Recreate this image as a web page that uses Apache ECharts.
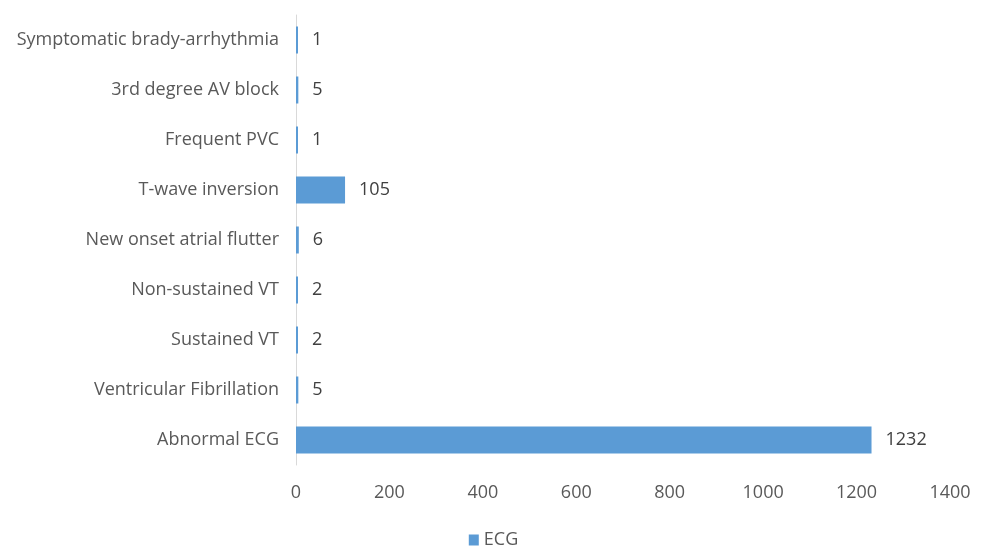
<!DOCTYPE html>
<html>
<head>
<meta charset="utf-8">
<script src="https://cdn.jsdelivr.net/npm/echarts@6/dist/echarts.min.js"></script>
<style>
  html, body { margin: 0; padding: 0; background: #fff; }
  #chart { width: 987px; height: 548px; }
</style>
</head>
<body>
<div id="chart"></div>
<script>
// Findings listed bottom-to-top along the category axis
const categories = [
  'Abnormal ECG',
  'Ventricular Fibrillation',
  'Sustained VT',
  'Non-sustained VT',
  'New onset atrial flutter',
  'T-wave inversion',
  'Frequent PVC',
  '3rd degree AV block',
  'Symptomatic brady-arrhythmia'
];
const ecgCounts = [1232, 5, 2, 2, 6, 105, 1, 5, 1];
const seriesName = 'ECG';

const textColor = '#595959';
const fontFamily = '"Open Sans", "Noto Sans", sans-serif';
const fontSize = 18;

const chart = echarts.init(document.getElementById('chart'));
chart.setOption({
  animation: false,
  textStyle: { fontFamily: fontFamily },
  grid: { left: 296, right: 37, top: 15, bottom: 83, containLabel: false },
  legend: {
    top: 526,
    left: 'center',
    itemWidth: 10,
    itemHeight: 11,
    icon: 'rect',
    itemGap: 5,
    textStyle: { color: textColor, fontSize: fontSize, fontFamily: fontFamily },
    data: [seriesName]
  },
  xAxis: {
    type: 'value',
    min: 0,
    max: 1400,
    interval: 200,
    axisLine: { show: false },
    axisTick: { show: false },
    splitLine: { show: false },
    axisLabel: {
      color: textColor,
      fontSize: fontSize,
      margin: 19,
      formatter: function (v) { return String(v); }
    }
  },
  yAxis: {
    type: 'category',
    data: categories,
    axisLine: { show: true, lineStyle: { color: '#d9d9d9', width: 1 } },
    axisTick: { show: false },
    axisLabel: { color: textColor, fontSize: fontSize, margin: 17 }
  },
  series: [{
    name: seriesName,
    type: 'bar',
    data: ecgCounts,
    barCategoryGap: '46%',
    barMinHeight: 2,
    itemStyle: { color: '#5b9bd5' },
    label: {
      show: true,
      position: 'right',
      distance: 14,
      color: '#404040',
      fontSize: fontSize,
      fontFamily: fontFamily
    }
  }]
});
</script>
</body>
</html>
